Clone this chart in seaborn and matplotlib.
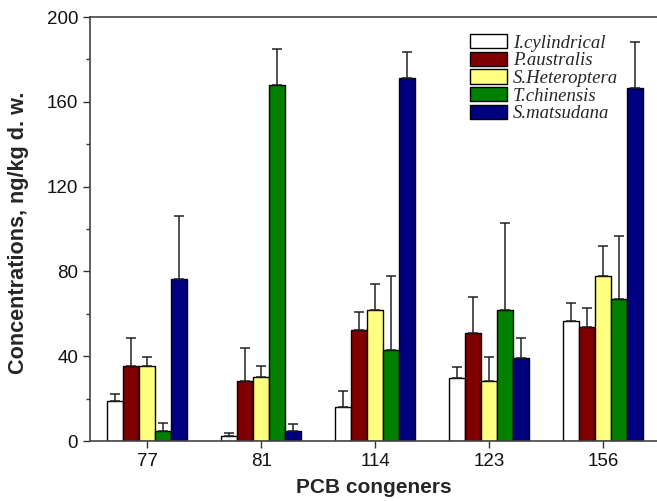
import numpy as np
import pandas as pd
import seaborn as sns
import matplotlib.pyplot as plt
from matplotlib.patches import Patch
from matplotlib.ticker import MultipleLocator

# PCB congeners and species
congeners = ["77", "81", "114", "123", "156"]
species = ["I.cylindrical", "P.australis", "S.Heteroptera", "T.chinensis", "S.matsudana"]
colors = ["#ffffff", "#800000", "#ffff80", "#008000", "#000080"]

# mean concentrations (ng/kg d.w.) per species, ordered like congeners
i_cyl = [18.9, 2.4, 16.0, 29.7, 56.6]
p_aus = [35.4, 28.3, 52.4, 51.0, 54.0]
s_het = [35.4, 30.2, 61.8, 28.3, 78.0]
t_chi = [4.7, 168.0, 43.0, 62.0, 67.0]
s_mat = [76.4, 4.7, 171.0, 39.0, 166.5]

# standard deviations (upper error bars)
i_cyl_sd = [3.3, 1.4, 7.6, 5.3, 8.4]
p_aus_sd = [13.0, 15.6, 8.6, 17.0, 8.7]
s_het_sd = [4.0, 5.2, 12.2, 11.3, 14.0]
t_chi_sd = [4.0, 17.0, 35.0, 41.0, 29.7]
s_mat_sd = [29.6, 3.5, 12.5, 9.6, 21.5]

means = [i_cyl, p_aus, s_het, t_chi, s_mat]
sds = [i_cyl_sd, p_aus_sd, s_het_sd, t_chi_sd, s_mat_sd]

rows = []
for sp, m, s in zip(species, means, sds):
    for c, v, e in zip(congeners, m, s):
        rows.append({"congener": c, "species": sp, "conc": v, "sd": e})
df = pd.DataFrame(rows)

sns.set_style("ticks")
plt.rcParams["font.family"] = ["Liberation Sans", "DejaVu Sans"]

fig = plt.figure(figsize=(6.57, 5.01), dpi=100)
ax = fig.add_axes([90 / 657, 60 / 501, 1 - 90 / 657, 424 / 501])

sns.barplot(data=df, x="congener", y="conc", hue="species", order=congeners,
            hue_order=species, palette=colors, width=0.7, errorbar=None,
            edgecolor="black", linewidth=1.0, saturation=1, legend=False, ax=ax)

# upper error bars, taken from bar patches
for bar_patches, sp in zip(ax.containers, species):
    sub = df[df["species"] == sp].set_index("congener").loc[congeners]
    xs = [p.get_x() + p.get_width() / 2 for p in bar_patches]
    ax.errorbar(xs, sub["conc"].values, yerr=[np.zeros(len(xs)), sub["sd"].values],
                fmt="none", ecolor="#222222", elinewidth=1.1, capsize=3.3, capthick=1.1, zorder=1)

ax.set_xlim(-0.5, 4.47)
ax.set_ylim(0, 200)
ax.yaxis.set_major_locator(MultipleLocator(40))
ax.yaxis.set_minor_locator(MultipleLocator(20))
ax.tick_params(axis="both", which="major", labelsize=13.5, length=5, width=1, colors="#333333",
               labelcolor="#111111")
ax.tick_params(axis="y", which="minor", length=3, width=1, colors="#333333")

for side in ["left", "bottom", "top"]:
    ax.spines[side].set_visible(True)
    ax.spines[side].set_linewidth(1.2)
    ax.spines[side].set_color("#444444")
ax.spines["right"].set_visible(False)

ax.set_xlabel("PCB congeners", fontsize=15, fontweight="bold", labelpad=6)
ax.set_ylabel("Concentrations, ng/kg d. w.", fontsize=15.6, fontweight="bold")
ax.yaxis.set_label_coords(-0.108, 0.49)

handles = [Patch(facecolor=c, edgecolor="black", linewidth=1.0) for c in colors]
leg = ax.legend(handles, species, loc="upper left", bbox_to_anchor=(0.64, 1.0),
                frameon=False, handlelength=2.0, handleheight=0.8, handletextpad=0.3,
                labelspacing=0.0, borderaxespad=0.5,
                prop={"family": "Liberation Serif", "style": "italic", "size": 13.5})

fig.savefig("out.png", dpi=100)
